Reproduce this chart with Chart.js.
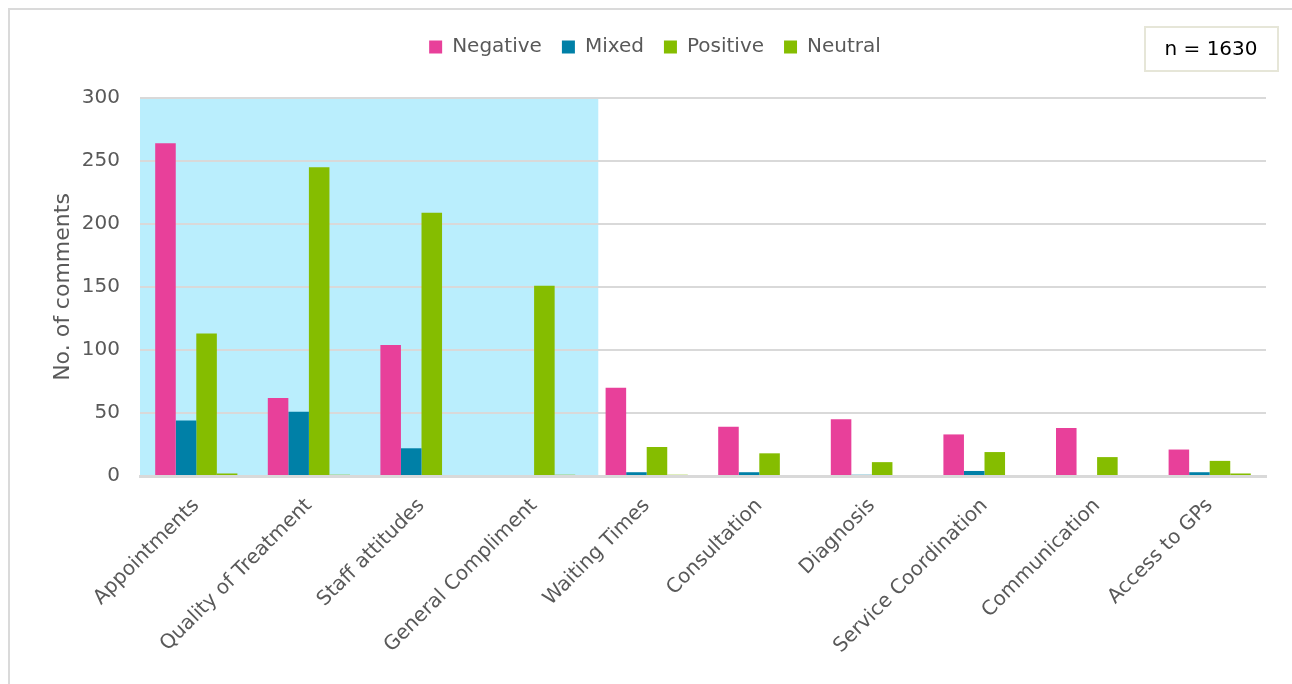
<!DOCTYPE html>
<html>
<head>
<meta charset="utf-8">
<script src="https://cdn.jsdelivr.net/npm/chart.js@4.4.1/dist/chart.umd.min.js"></script>
<style>
  html, body { margin: 0; padding: 0; background: #fff; overflow: hidden; }
  #wrap { position: relative; width: 1292px; height: 684px; }
  #frame { position: absolute; left: 8px; top: 8px; width: 1320px; height: 720px; border: 2px solid #dadada; }
  canvas { position: absolute; left: 0; top: 0; }
</style>
</head>
<body>
<div id="wrap">
  <div id="frame"></div>
  <canvas id="commentsChart" width="1292" height="684"></canvas>
</div>
<script>
// data
const categories = ['Appointments', 'Quality of Treatment', 'Staff attitudes', 'General Compliment',
  'Waiting Times', 'Consultation', 'Diagnosis', 'Service Coordination', 'Communication', 'Access to GPs'];
const negative = [264, 62, 104, 0, 70, 39, 45, 33, 38, 21];
const mixed    = [44, 51, 22, 0, 3, 3, 1, 4, 0, 3];
const positive = [113, 245, 209, 151, 23, 18, 11, 19, 15, 12];
const neutral  = [2, 1, 0, 1, 1, 0, 0, 0, 0, 2];
const yTicks = [0, 50, 100, 150, 200, 250, 300];
const totalLabel = 'n = 1630';
const highlightCount = 4; // first categories sit on the blue panel

const textColor = '#595959';
const fontFamily = '"DejaVu Sans", sans-serif';

// extra room under the legend, and nudge it a bit right
const legendGap = {
  id: 'legendGap',
  beforeInit(chart) {
    const fit = chart.legend.fit;
    chart.legend.fit = function () {
      fit.bind(chart.legend)();
      this.height += 31;
    };
  },
  afterLayout(chart) {
    chart.legend.left += 18;
    chart.legend.right += 18;
  }
};

// blue panel behind the first few categories
const highlightPanel = {
  id: 'highlightPanel',
  beforeDraw(chart) {
    const { ctx, chartArea, scales } = chart;
    const x = scales.x;
    const step = x.getPixelForValue(1) - x.getPixelForValue(0);
    const right = x.getPixelForValue(highlightCount - 1) + step * 0.57;
    ctx.save();
    ctx.fillStyle = '#baeefd';
    ctx.fillRect(chartArea.left, chartArea.top, right - chartArea.left, chartArea.bottom - chartArea.top);
    ctx.restore();
  }
};

// "n = ..." box top right
const totalBox = {
  id: 'totalBox',
  afterDraw(chart) {
    const ctx = chart.ctx;
    ctx.save();
    ctx.strokeStyle = '#e6e6d8';
    ctx.lineWidth = 2;
    ctx.strokeRect(1145, 27, 133, 44);
    ctx.fillStyle = '#000';
    ctx.font = '20px ' + fontFamily;
    ctx.textAlign = 'center';
    ctx.textBaseline = 'middle';
    ctx.fillText(totalLabel, 1211, 50);
    ctx.restore();
  }
};

const ctx = document.getElementById('commentsChart').getContext('2d');
new Chart(ctx, {
  type: 'bar',
  data: {
    labels: categories,
    datasets: [
      { label: 'Negative', data: negative, backgroundColor: '#e8409a' },
      { label: 'Mixed', data: mixed, backgroundColor: '#0080a7' },
      { label: 'Positive', data: positive, backgroundColor: '#85bd00' },
      { label: 'Neutral', data: neutral, backgroundColor: '#85bd00' }
    ]
  },
  options: {
    responsive: false,
    animation: false,
    datasets: { bar: { barPercentage: 1.0, categoryPercentage: 0.73 } },
    layout: { padding: { left: 8, right: 26, top: 17, bottom: 0 } },
    plugins: {
      legend: {
        position: 'top',
        labels: {
          color: textColor,
          font: { family: fontFamily, size: 20 },
          boxWidth: 13,
          boxHeight: 13,
          padding: 20
        }
      },
      tooltip: { enabled: false }
    },
    scales: {
      x: {
        grid: { display: false },
        border: { color: '#d9d9d9', width: 3 },
        ticks: {
          color: textColor,
          font: { family: fontFamily, size: 20 },
          autoSkip: false,
          maxRotation: 45,
          minRotation: 45,
          padding: 10
        },
        afterFit: scale => { scale.height = 208; }
      },
      y: {
        min: 0,
        max: 300,
        afterBuildTicks: scale => { scale.ticks = yTicks.map(v => ({ value: v })); },
        grid: { color: '#d9d9d9', lineWidth: 2, drawTicks: false },
        border: { display: false },
        ticks: {
          color: textColor,
          font: { family: fontFamily, size: 20 },
          padding: 20
        },
        title: {
          display: true,
          text: 'No. of comments',
          color: textColor,
          font: { family: fontFamily, size: 22 },
          padding: { top: 42, bottom: 0 }
        },
        afterFit: scale => { scale.width = 132; }
      }
    }
  },
  plugins: [legendGap, highlightPanel, totalBox]
});
</script>
</body>
</html>
